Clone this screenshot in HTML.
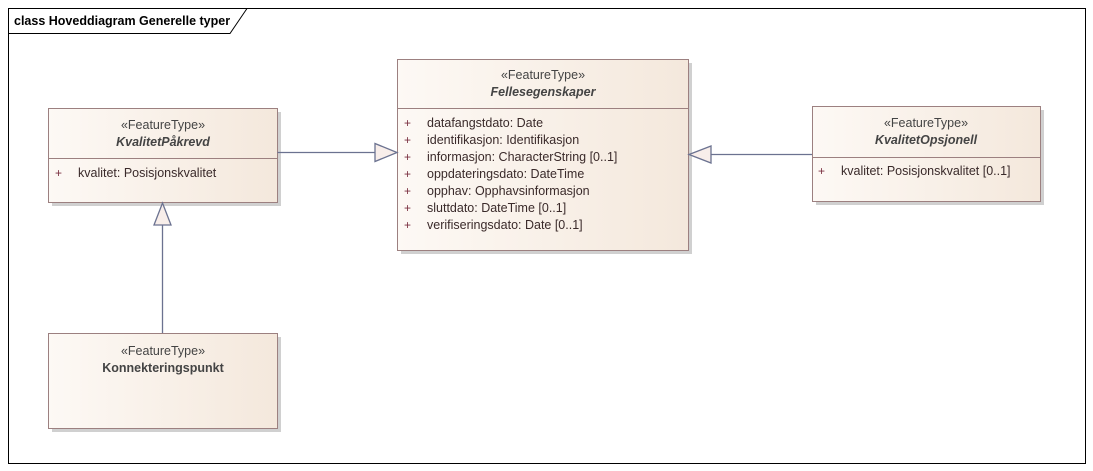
<!DOCTYPE html>
<html><head><meta charset="utf-8"><style>
html,body{margin:0;padding:0;background:#fff;}
svg{display:block;}
text{font-family:"Liberation Sans",sans-serif;}
.st{font-size:12.5px;fill:#444;}
.nm{font-size:12.5px;font-weight:bold;font-style:italic;fill:#444;}
.nb{font-size:12.5px;font-weight:bold;fill:#444;}
.at{font-size:12.5px;fill:#3a2a2a;}
.pl{font-size:12px;fill:#7a3040;}
</style></head><body>
<svg width="1093" height="471" viewBox="0 0 1093 471" xmlns="http://www.w3.org/2000/svg">
<defs>
<linearGradient id="g" x1="0" x2="1" y1="0" y2="0">
<stop offset="0" stop-color="#fdf9f5"/><stop offset="1" stop-color="#f4e8dc"/>
</linearGradient>
</defs>
<rect x="8.5" y="8.5" width="1077" height="455" fill="#fff" stroke="#000" stroke-width="1"/>
<path d="M8.5 33.5 H230 L247 8.5" fill="none" stroke="#000" stroke-width="1"/>
<text x="14" y="25" style="font-size:12.5px;font-weight:bold;fill:#000;">class Hoveddiagram Generelle typer</text>

<rect x="52" y="112" width="229" height="94" fill="#d0d0d0"/>
<rect x="401" y="63" width="291" height="191" fill="#d0d0d0"/>
<rect x="816" y="110" width="228" height="95" fill="#d0d0d0"/>
<rect x="52" y="337" width="229" height="95" fill="#d0d0d0"/>

<rect x="48.5" y="108.5" width="229" height="94" fill="url(#g)" stroke="#9c8080"/>
<line x1="48.5" y1="158.5" x2="277.5" y2="158.5" stroke="#9c8080"/>
<text class="st" x="163" y="129" text-anchor="middle">«FeatureType»</text>
<text class="nm" x="163" y="146" text-anchor="middle">KvalitetPåkrevd</text>
<text class="pl" x="55" y="177">+</text>
<text class="at" x="78" y="177">kvalitet: Posisjonskvalitet</text>

<rect x="397.5" y="59.5" width="291" height="191" fill="url(#g)" stroke="#9c8080"/>
<line x1="397.5" y1="108.5" x2="688.5" y2="108.5" stroke="#9c8080"/>
<text class="st" x="543" y="79" text-anchor="middle">«FeatureType»</text>
<text class="nm" x="543" y="96" text-anchor="middle">Fellesegenskaper</text>
<g>
<text class="pl" x="404" y="127">+</text><text class="at" x="427" y="127">datafangstdato: Date</text>
<text class="pl" x="404" y="144">+</text><text class="at" x="427" y="144">identifikasjon: Identifikasjon</text>
<text class="pl" x="404" y="161">+</text><text class="at" x="427" y="161">informasjon: CharacterString [0..1]</text>
<text class="pl" x="404" y="178">+</text><text class="at" x="427" y="178">oppdateringsdato: DateTime</text>
<text class="pl" x="404" y="195">+</text><text class="at" x="427" y="195">opphav: Opphavsinformasjon</text>
<text class="pl" x="404" y="212">+</text><text class="at" x="427" y="212">sluttdato: DateTime [0..1]</text>
<text class="pl" x="404" y="229">+</text><text class="at" x="427" y="229">verifiseringsdato: Date [0..1]</text>
</g>

<rect x="812.5" y="106.5" width="228" height="95" fill="url(#g)" stroke="#9c8080"/>
<line x1="812.5" y1="157.5" x2="1040.5" y2="157.5" stroke="#9c8080"/>
<text class="st" x="926" y="127" text-anchor="middle">«FeatureType»</text>
<text class="nm" x="926" y="144" text-anchor="middle">KvalitetOpsjonell</text>
<text class="pl" x="818" y="175">+</text>
<text class="at" x="841" y="175">kvalitet: Posisjonskvalitet [0..1]</text>

<rect x="48.5" y="333.5" width="229" height="95" fill="url(#g)" stroke="#9c8080"/>
<text class="st" x="163" y="355" text-anchor="middle">«FeatureType»</text>
<text class="nb" x="163" y="372" text-anchor="middle">Konnekteringspunkt</text>

<g stroke="#6b7290" stroke-width="1.3" fill="#f8eeea">
<line x1="277.5" y1="152.5" x2="375" y2="152.5"/>
<polygon points="375,143.5 397,152.5 375,161.5"/>
<line x1="812" y1="154.5" x2="711" y2="154.5"/>
<polygon points="711,146 689,154.5 711,163"/>
<line x1="162.5" y1="333" x2="162.5" y2="225"/>
<polygon points="154,225 162.5,203 171,225"/>
</g>
</svg>
</body></html>
